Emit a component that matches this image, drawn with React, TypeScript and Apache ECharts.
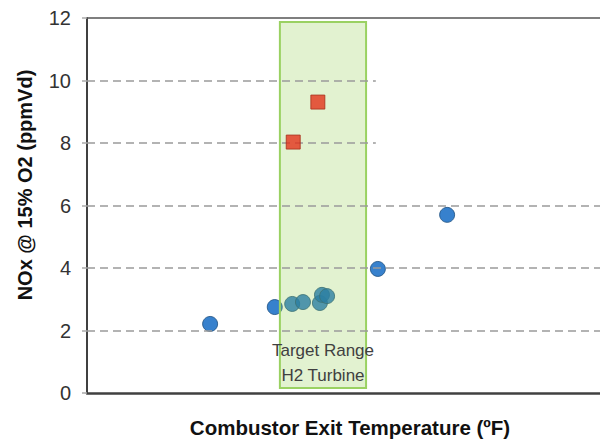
import React, { useEffect, useRef } from "react";
import * as echarts from "echarts";

// x is a relative position along the temperature axis (0-100, axis unlabelled)
const baselineX = [24.0, 36.6, 56.7, 70.2];
const baselineY = [2.21, 2.75, 3.97, 5.7];
const h2X = [40.0, 42.1, 45.4, 45.8, 46.8];
const h2Y = [2.85, 2.91, 2.88, 3.14, 3.1];
const diffusionX = [40.2, 45.0];
const diffusionY = [8.03, 9.31];
const targetRange = { x0: 37.6, x1: 54.4, y0: 0.16, y1: 11.87 };
const yTicks = [0, 2, 4, 6, 8, 10, 12];
const shortGrid = [10, 8];
const longGrid = [6, 4, 2];
const shortGridEnd = 56.3;

export default function App() {
  const ref = useRef<HTMLDivElement>(null);
  useEffect(() => {
    if (!ref.current) return;
    document.body.style.margin = "0";
    document.body.style.overflow = "hidden";
    const chart = echarts.init(ref.current, undefined, { renderer: "svg" });
    const dash = { color: "#9a9a9a", type: [8, 5] as any, width: 1.6 };
    const gridLines = [
      ...shortGrid.map((v) => [
        { coord: [0, v], lineStyle: dash },
        { coord: [shortGridEnd, v] },
      ]),
      ...longGrid.map((v) => [
        { coord: [0, v], lineStyle: dash },
        { coord: [100, v] },
      ]),
      [
        { coord: [0, 12], lineStyle: { color: "#555", type: "solid", width: 1.6 } },
        { coord: [100, 12] },
      ],
    ];
    chart.setOption({
      animation: false,
      grid: { left: 87, right: 0, top: 18, bottom: 47 },
      xAxis: {
        type: "value",
        min: 0,
        max: 100,
        axisLine: { show: true, lineStyle: { color: "#404040", width: 2.5 } },
        axisTick: { show: false },
        axisLabel: { show: false },
        splitLine: { show: false },
      },
      yAxis: {
        type: "value",
        min: yTicks[0],
        max: yTicks[yTicks.length - 1],
        interval: 2,
        axisLine: { show: true, onZero: false, lineStyle: { color: "#404040", width: 2 } },
        axisTick: { show: true, length: 5, lineStyle: { color: "#aaa", width: 1.5 } },
        axisLabel: {
          margin: 16,
          fontSize: 20,
          color: "#333",
          fontFamily: "Liberation Sans, Arial, sans-serif",
        },
        splitLine: { show: false },
      },
      graphic: [
        {
          type: "text",
          x: 25,
          y: 185,
          rotation: Math.PI / 2,
          style: {
            text: "NOx @ 15% O2 (ppmVd)",
            font: "bold 20px Liberation Sans, Arial, sans-serif",
            fill: "#111",
            align: "center",
            verticalAlign: "middle",
          },
        },
        {
          type: "text",
          x: 350,
          y: 427,
          style: {
            text: "Combustor Exit Temperature (ºF)",
            font: "bold 20.5px Liberation Sans, Arial, sans-serif",
            fill: "#111",
            align: "center",
            verticalAlign: "middle",
          },
        },
      ],
      series: [
        {
          type: "line",
          data: [],
          z: 1,
          markLine: {
            silent: true,
            symbol: "none",
            label: { show: false },
            data: gridLines,
          },
        },
        {
          type: "scatter",
          z: 2,
          symbol: "circle",
          symbolSize: 15,
          itemStyle: { color: "#0562c0", borderColor: "#1b4f80", borderWidth: 1 },
          data: baselineX.map((x, i) => [x, baselineY[i]]),
        },
        {
          type: "scatter",
          z: 2,
          symbol: "circle",
          symbolSize: 15,
          itemStyle: { color: "#0562c0", borderColor: "#1b4f80", borderWidth: 1 },
          data: h2X.map((x, i) => [x, h2Y[i]]),
        },
        {
          type: "scatter",
          data: [],
          z: 3,
          markArea: {
            silent: true,
            z: 3,
            itemStyle: {
              color: "rgba(146,208,80,0.27)",
              borderColor: "#9ad162",
              borderWidth: 2,
            },
            label: {
              show: true,
              position: "insideBottom",
              distance: 1,
              formatter: "Target Range\nH2 Turbine",
              fontSize: 17,
              lineHeight: 25,
              color: "#404040",
              fontFamily: "Liberation Sans, Arial, sans-serif",
            },
            data: [
              [
                { coord: [targetRange.x0, targetRange.y1] },
                { coord: [targetRange.x1, targetRange.y0] },
              ],
            ],
          },
        },
        {
          type: "scatter",
          z: 20,
          symbol: "rect",
          symbolSize: 14,
          itemStyle: { color: "#e4321a", borderColor: "#a5301a", borderWidth: 1 },
          data: diffusionX.map((x, i) => [x, diffusionY[i]]),
        },
      ],
    });
    return () => chart.dispose();
  }, []);
  return <div ref={ref} style={{ width: 600, height: 440 }} />;
}
